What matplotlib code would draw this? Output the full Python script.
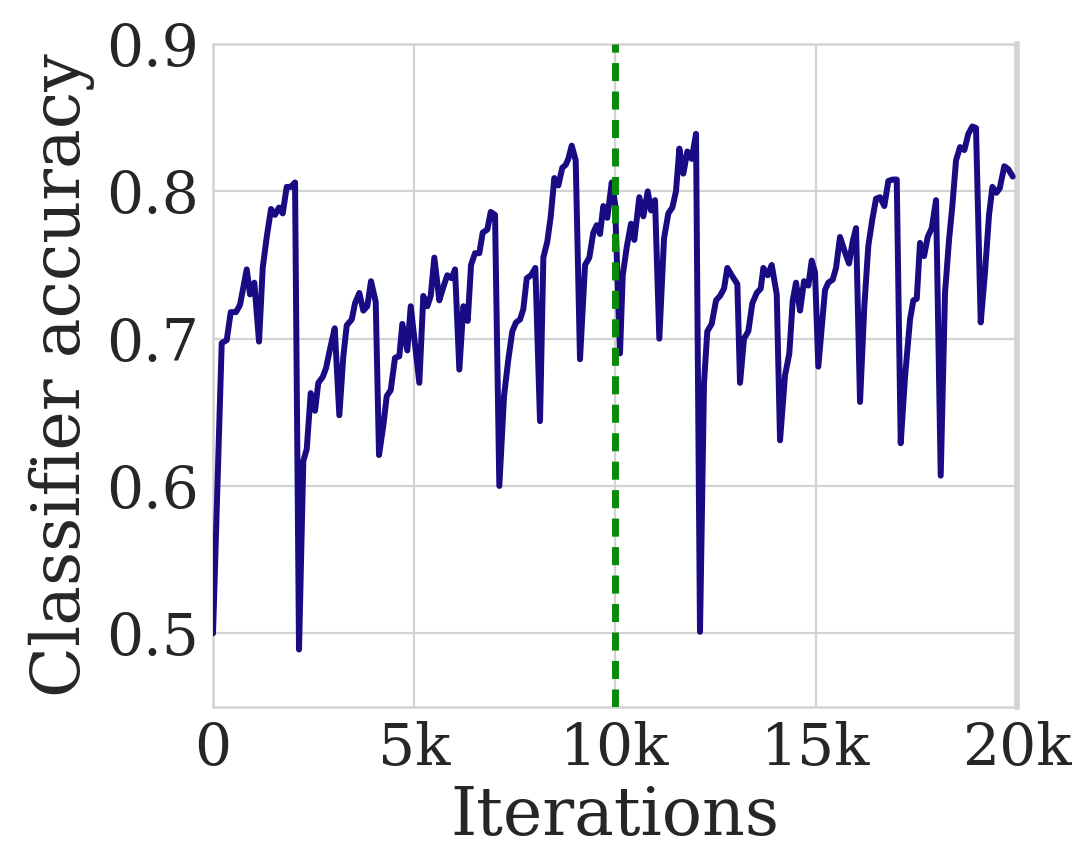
import matplotlib
matplotlib.use("Agg")
import matplotlib.pyplot as plt
import seaborn as sns

# data (iteration, accuracy)
iterations = [0, 216, 341, 440, 572, 672, 838, 920, 1027, 1144, 1236, 1336, 1443, 1542, 1642,
              1734, 1833, 1933, 2040, 2139, 2246, 2331, 2430, 2537, 2619, 2729, 2811, 2910, 3027,
              3142, 3241, 3326, 3450, 3532, 3639, 3739, 3838, 3930, 4047, 4129, 4236, 4321, 4420,
              4527, 4634, 4709, 4833, 4918, 5132, 5231, 5331, 5415, 5505, 5629, 5729, 5828, 5938,
              6020, 6127, 6227, 6336, 6418, 6517, 6624, 6709, 6823, 6908, 7015, 7122, 7239, 7346,
              7445, 7537, 7637, 7719, 7804, 7910, 8018, 8134, 8217, 8316, 8401, 8490, 8590, 8689,
              8774, 8838, 8923, 9022, 9129, 9254, 9361, 9460, 9545, 9627, 9709, 9808, 9918, 10000,
              10124, 10192, 10291, 10398, 10480, 10605, 10704, 10814, 10896, 10995, 11102, 11219,
              11326, 11426, 11517, 11600, 11699, 11799, 11908, 12015, 12114, 12214, 12296, 12405,
              12513, 12612, 12712, 12794, 12903, 13043, 13110, 13209, 13316, 13416, 13525, 13625,
              13690, 13799, 13898, 14023, 14105, 14229, 14336, 14421, 14503, 14603, 14702, 14809,
              14893, 14975, 15057, 15224, 15306, 15415, 15498, 15597, 15704, 15821, 15913, 15995,
              16095, 16202, 16301, 16401, 16493, 16592, 16699, 16799, 16908, 17008, 17107, 17214,
              17339, 17421, 17506, 17587, 17687, 17779, 17879, 17986, 18102, 18209, 18309, 18391,
              18483, 18583, 18690, 18789, 18888, 18980, 19097, 19204, 19304, 19388, 19488, 19570,
              19684, 19784, 19893]
accuracy = [0.500, 0.697, 0.699, 0.718, 0.718, 0.723, 0.747, 0.730, 0.738, 0.698, 0.748, 0.769,
            0.788, 0.784, 0.789, 0.785, 0.803, 0.803, 0.806, 0.489, 0.617, 0.625, 0.663, 0.651,
            0.670, 0.674, 0.680, 0.693, 0.707, 0.648, 0.688, 0.709, 0.713, 0.724, 0.731, 0.719,
            0.722, 0.739, 0.725, 0.621, 0.641, 0.661, 0.665, 0.687, 0.688, 0.710, 0.692, 0.722,
            0.670, 0.729, 0.722, 0.729, 0.755, 0.726, 0.735, 0.743, 0.741, 0.747, 0.679, 0.722,
            0.712, 0.750, 0.758, 0.758, 0.772, 0.774, 0.786, 0.784, 0.600, 0.661, 0.686, 0.705,
            0.711, 0.713, 0.720, 0.741, 0.743, 0.748, 0.644, 0.755, 0.766, 0.783, 0.809, 0.804,
            0.816, 0.818, 0.822, 0.831, 0.821, 0.686, 0.750, 0.755, 0.772, 0.777, 0.771, 0.790,
            0.782, 0.806, 0.792, 0.690, 0.743, 0.762, 0.778, 0.767, 0.796, 0.783, 0.800, 0.787,
            0.794, 0.700, 0.768, 0.785, 0.789, 0.800, 0.829, 0.812, 0.827, 0.822, 0.839, 0.501,
            0.670, 0.705, 0.710, 0.726, 0.729, 0.734, 0.748, 0.743, 0.737, 0.670, 0.700, 0.705,
            0.724, 0.731, 0.734, 0.748, 0.743, 0.750, 0.730, 0.631, 0.675, 0.690, 0.726, 0.738,
            0.719, 0.739, 0.736, 0.753, 0.745, 0.681, 0.733, 0.738, 0.740, 0.748, 0.769, 0.760,
            0.751, 0.766, 0.775, 0.657, 0.722, 0.763, 0.781, 0.795, 0.796, 0.790, 0.807, 0.808,
            0.808, 0.629, 0.674, 0.713, 0.726, 0.727, 0.765, 0.756, 0.769, 0.775, 0.794, 0.607,
            0.731, 0.767, 0.790, 0.821, 0.830, 0.828, 0.839, 0.844, 0.843, 0.711, 0.745, 0.784,
            0.803, 0.799, 0.802, 0.817, 0.815, 0.810]
switch_iter = 10000
x_ticks = [0, 5000, 10000, 15000, 20000]
x_labels = ["0", "5k", "10k", "15k", "20k"]
y_ticks = [0.5, 0.6, 0.7, 0.8, 0.9]

sns.set_style("whitegrid")
plt.rcParams['font.family'] = ['DejaVu Serif']

fig = plt.figure(figsize=(10.77, 8.49), dpi=100)
ax = fig.add_axes([0.1978, 0.1673, 0.7465, 0.7809])

ax.plot(iterations, accuracy, color="#180b84", linewidth=4.3, solid_joinstyle="round",
        solid_capstyle="round", zorder=3)
ax.axvline(switch_iter, color="#0a8a0a", linewidth=5, linestyle=(0, (2.6, 1.5)), zorder=4)

ax.set_xlim(0, 20000)
ax.set_ylim(0.45, 0.9)
ax.set_xticks(x_ticks)
ax.set_xticklabels(x_labels)
ax.set_yticks(y_ticks)
ax.set_yticklabels(["0.5", "0.6", "0.7", "0.8", "0.9"])
ax.grid(True, color="#d3d3d3", linewidth=1.6)
for s in ax.spines.values():
    s.set_color("#d3d3d3")
    s.set_linewidth(1.8)
ax.spines['right'].set_linewidth(4)

ax.tick_params(axis='both', labelsize=42, colors="#262626", length=0, pad=10)
ax.set_xlabel("Iterations", fontsize=48, color="#262626", labelpad=5)
ax.set_ylabel("Classifier accuracy", fontsize=48, color="#262626", labelpad=8)

fig.savefig("out.png", dpi=100, facecolor="white")
